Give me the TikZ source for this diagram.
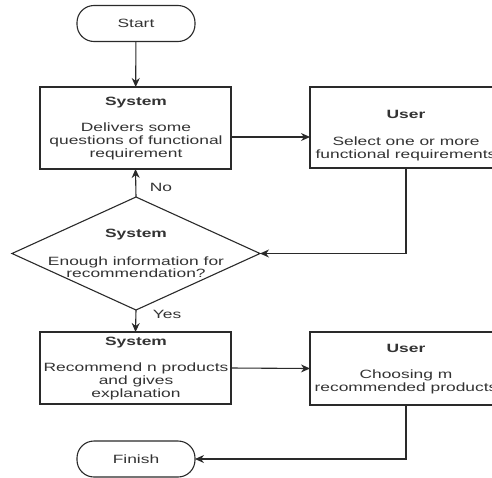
\documentclass[tikz,border=0pt]{standalone}
\usepackage{fontspec}
\setmainfont{Liberation Sans}[FakeStretch=1.45]
\usetikzlibrary{arrows.meta,shapes.geometric,calc}
\definecolor{ln}{HTML}{2A2A2A}
\definecolor{tx}{HTML}{333333}
\begin{document}
\begin{tikzpicture}[x=1pt,y=-1pt,
  every node/.style={inner sep=0pt,outer sep=0pt},
  shp/.style={draw=ln,line width=1.1pt,fill=white},
  term/.style={shp,rounded corners=17pt,minimum width=118pt,minimum height=36pt},
  boxx/.style={shp,minimum width=191pt},
  dec/.style={shp,diamond,minimum width=248pt,minimum height=113pt,aspect=2.2},
  ttl/.style={font=\fontsize{12}{13}\selectfont\bfseries,text=tx},
  txt/.style={font=\fontsize{12}{13}\selectfont,text=tx,align=center},
  lab/.style={font=\fontsize{12}{13}\selectfont,text=tx},
  arr/.style={draw=ln,line width=1.1pt,-{Stealth[length=9pt,width=8pt]}}]
\useasboundingbox (0,0) rectangle (492,477);
\clip (0,0) rectangle (492,477);
% shapes
\node[term] (start) at (136,23.5) {};
\node[boxx,minimum height=82pt] (b1) at (135.5,128) {};
\node[boxx,minimum width=192pt,minimum height=81pt] (b2) at (406,127.5) {};
\node[dec] (dia) at (136,253.5) {};
\node[boxx,minimum height=72pt] (b3) at (135.5,368) {};
\node[boxx,minimum width=192pt,minimum height=73pt] (b4) at (406,368.5) {};
\node[term] (fin) at (136,459) {};
% texts
\node[lab] (tstart) at (start) {Start};
\node[lab] (tfin) at (fin) {Finish};
\node[ttl] (t1a) at (136,102.5) {System};
\node[txt] (t1b) at (136,141) {Delivers some\\questions of functional\\requirement};
\node[ttl] (t2a) at (406,114) {User};
\node[txt] (t2b) at (406,148.5) {Select one or more\\functional requirements};
\node[ttl] (tda) at (136,235) {System};
\node[txt,font=\fontsize{12}{11}\selectfont] (tdb) at (136,267.5) {Enough information for\\recommendation?};
\node[ttl] (t3a) at (136,343) {System};
\node[txt] (t3b) at (136,381) {Recommend n products\\and gives\\explanation};
\node[ttl] (t4a) at (406,348.5) {User};
\node[txt] (t4b) at (406,381.5) {Choosing m\\recommended products};
% connectors
\draw[arr] (start) -- (b1);
\draw[arr] ($(b1.east)+(0,9)$) -- ($(b2.west)+(0,9.5)$);
\draw[arr] (b2.south) |- (dia.east);
\draw[arr] (dia.north) -- (b1.south) node[lab,pos=0.35,right=14pt] (no) {No};
\draw[arr] (dia.south) -- (b3.north) node[lab,pos=0.2,right=17pt] (yes) {Yes};
\draw[arr] (b3.east) -- (b4.west);
\draw[arr] (b4.south) |- (fin.east);
\end{tikzpicture}
\end{document}
